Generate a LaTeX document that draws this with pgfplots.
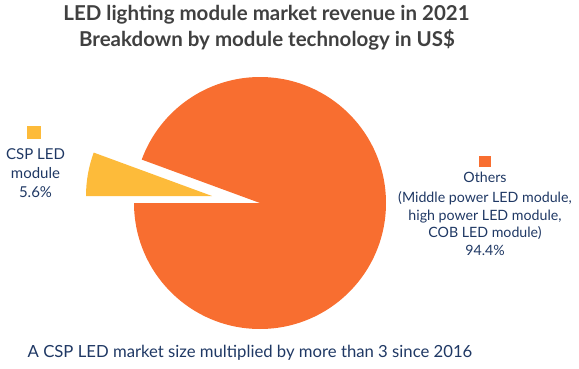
\documentclass[border=0pt]{standalone}
\usepackage{pgfplots}
\pgfplotsset{compat=1.18}
\usepackage{fontspec}
\setmainfont{Lato}
\definecolor{pieorange}{RGB}{248,110,48}
\definecolor{pieyellow}{RGB}{253,187,58}
\definecolor{titlegray}{RGB}{64,64,64}
\definecolor{navy}{RGB}{31,56,100}
\def\vCSP{5.6}
\def\vOth{94.4}
\pgfmathsetmacro{\aS}{180-3.6*\vCSP}
\pgfmathsetmacro{\aE}{180+3.6*\vOth}
\begin{document}
\begin{tikzpicture}
\begin{axis}[hide axis, scale only axis, width=579pt, height=368pt,
  xmin=0, xmax=579, ymin=0, ymax=368, clip=false]
% Others slice
\fill[pieorange] (axis cs:260,165) -- (axis cs:134,165)
   arc[start angle=180, end angle=\aE, radius=126pt] -- cycle;
% CSP slice (exploded)
\fill[pieyellow] (axis cs:212,172) -- (axis cs:86,172)
   arc[start angle=180, end angle=\aS, radius=126pt] -- cycle;
% title
\node[anchor=base, text=titlegray, font=\fontsize{20.5}{24}\selectfont\bfseries] at (axis cs:266.5,347.3) {LED lighting module market revenue in 2021};
\node[anchor=base, text=titlegray, font=\fontsize{20.5}{24}\selectfont\bfseries] at (axis cs:267,321.3) {Breakdown by module technology in US\$};
% left label
\fill[pieyellow] (axis cs:27,242) rectangle (axis cs:41,229);
\node[anchor=base, text=navy, font=\fontsize{15}{18}\selectfont] at (axis cs:35.5,209) {CSP LED};
\node[anchor=base, text=navy, font=\fontsize{15}{18}\selectfont] at (axis cs:35.5,190) {module};
\node[anchor=base, text=navy, font=\fontsize{15}{18}\selectfont] at (axis cs:35.5,171) {5.6\%};
% right label
\fill[pieorange] (axis cs:479,212) rectangle (axis cs:491,201);
\node[anchor=base, text=navy, font=\fontsize{14.2}{17}\selectfont] at (axis cs:485,186) {Others};
\node[anchor=base, text=navy, font=\fontsize{14.2}{17}\selectfont] at (axis cs:485,166) {(Middle power LED module,};
\node[anchor=base, text=navy, font=\fontsize{14.2}{17}\selectfont] at (axis cs:485,148) {high power LED module,};
\node[anchor=base, text=navy, font=\fontsize{14.2}{17}\selectfont] at (axis cs:485,131) {COB LED module)};
\node[anchor=base, text=navy, font=\fontsize{14.2}{17}\selectfont] at (axis cs:485,113) {94.4\%};
% bottom note
\node[anchor=base, text=navy, font=\fontsize{16.7}{20}\selectfont] at (axis cs:250,11) {A CSP LED market size multiplied by more than 3 since 2016};
\end{axis}
\pgfresetboundingbox
\useasboundingbox (0,0) rectangle (579pt,368pt);
\end{tikzpicture}
\end{document}
